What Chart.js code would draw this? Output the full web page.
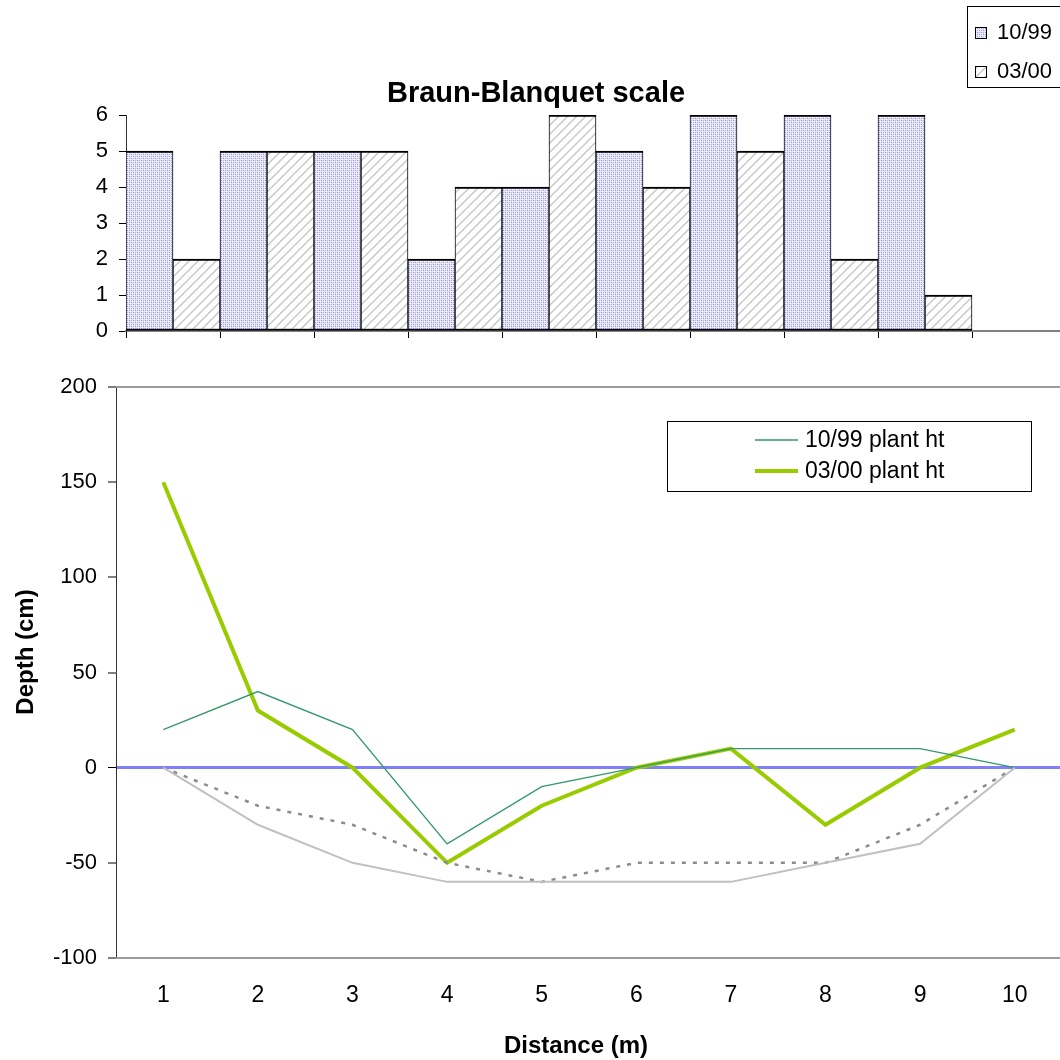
<!DOCTYPE html>
<html>
<head>
<meta charset="utf-8">
<script src="https://cdn.jsdelivr.net/npm/chart.js@4.4.1/dist/chart.umd.min.js"></script>
<style>
  html, body { margin: 0; padding: 0; background: #ffffff; }
  #wrap { position: relative; width: 1060px; height: 1060px; overflow: hidden; background: #ffffff; }
  #wrap canvas { position: absolute; left: 0; }
  #bbChart { top: 0; }
  #depthChart { top: 360px; }
</style>
</head>
<body>
<div id="wrap">
  <canvas id="bbChart" width="1100" height="360"></canvas>
  <canvas id="depthChart" width="1100" height="700"></canvas>
</div>
<script>
// Transect stations along the channel (m)
const distances = ['1', '2', '3', '4', '5', '6', '7', '8', '9', '10'];

// Braun-Blanquet cover class per station
const bbOct99 = [5, 5, 5, 2, 4, 5, 6, 6, 6, null];
const bbMar00 = [2, 5, 5, 4, 6, 4, 5, 2, 1, null];

// Plant height (cm)
const plantHtOct99 = [20, 40, 20, -40, -10, 0, 10, 10, 10, 0];
const plantHtMar00 = [150, 30, 0, -50, -20, 0, 10, -30, 0, 20];

// Channel bed profiles (cm below the water line)
const bedOct99 = [0, -30, -50, -60, -60, -60, -60, -50, -40, 0];
const bedMar00 = [0, -20, -30, -50, -60, -50, -50, -50, -30, 0];

// Axis ticks
const bbTicks = [0, 1, 2, 3, 4, 5, 6];
const depthTicks = [-100, -50, 0, 50, 100, 150, 200];

const FONT = "'Liberation Sans', Arial, sans-serif";

function dotPattern() {
  const c = document.createElement('canvas');
  c.width = 4; c.height = 4;
  const g = c.getContext('2d');
  g.fillStyle = '#e6e6ff';
  g.fillRect(0, 0, 4, 4);
  g.fillStyle = '#8c8cff';
  g.fillRect(1, 0, 1, 1);
  g.fillRect(3, 2, 1, 1);
  g.fillStyle = '#b0b0ff';
  g.fillRect(1, 2, 1, 1);
  g.fillRect(3, 0, 1, 1);
  g.fillStyle = '#ffffff';
  g.fillRect(0, 1, 1, 1);
  g.fillRect(2, 3, 1, 1);
  return g.createPattern(c, 'repeat');
}

function hatchPattern() {
  const c = document.createElement('canvas');
  c.width = 9; c.height = 9;
  const g = c.getContext('2d');
  g.fillStyle = '#ffffff';
  g.fillRect(0, 0, 9, 9);
  g.strokeStyle = '#c6c6c6';
  g.lineWidth = 1.4;
  g.beginPath();
  g.moveTo(-1, 10); g.lineTo(10, -1);
  g.moveTo(-5.5, 5.5); g.lineTo(5.5, -5.5);
  g.moveTo(3.5, 14.5); g.lineTo(14.5, 3.5);
  g.stroke();
  return g.createPattern(c, 'repeat');
}

const dots = dotPattern();
const hatch = hatchPattern();

function fixWidth(w) { return scale => { scale.width = w; }; }
function fixHeight(h) { return scale => { scale.height = h; }; }

// ---- Braun-Blanquet cover bars ----
const bbDecor = {
  id: 'bbDecor',
  afterDraw(chart) {
    const ctx = chart.ctx;
    ctx.save();
    ctx.fillStyle = '#000';
    ctx.font = 'bold 29px ' + FONT;
    ctx.textAlign = 'center';
    ctx.textBaseline = 'middle';
    ctx.fillText('Braun-Blanquet scale', 536, 94);

    // legend
    const bx = 967.5, by = 6.5, bw = 120, bh = 81;
    ctx.strokeStyle = '#000';
    ctx.lineWidth = 1;
    ctx.strokeRect(bx, by, bw, bh);
    ctx.font = '22px ' + FONT;
    ctx.textAlign = 'left';
    const rows = [33, 72];
    chart.data.datasets.forEach((ds, i) => {
      const y = rows[i];
      ctx.fillStyle = ds.backgroundColor;
      ctx.fillRect(975, y - 5, 11, 11);
      ctx.strokeStyle = '#000';
      ctx.strokeRect(975.5, y - 5.5, 11, 11);
      ctx.fillStyle = '#000';
      ctx.fillText(ds.label, 997, y);
    });
    ctx.restore();
  }
};

new Chart(document.getElementById('bbChart'), {
  type: 'bar',
  data: {
    labels: distances,
    datasets: [
      { label: '10/99', data: bbOct99, backgroundColor: dots, borderColor: '#000',
        borderWidth: { top: 2, bottom: 2, left: 1, right: 1 }, borderSkipped: false,
        barPercentage: 1, categoryPercentage: 1 },
      { label: '03/00', data: bbMar00, backgroundColor: hatch, borderColor: '#000',
        borderWidth: { top: 2, bottom: 2, left: 1, right: 1 }, borderSkipped: false,
        barPercentage: 1, categoryPercentage: 1 }
    ]
  },
  options: {
    responsive: false,
    animation: false,
    layout: { padding: { top: 115, right: 34, left: 0, bottom: 0 } },
    plugins: { legend: { display: false }, tooltip: { enabled: false } },
    scales: {
      x: {
        offset: true,
        afterFit: fixHeight(29),
        ticks: { display: false },
        grid: { offset: true, drawOnChartArea: false, tickLength: 7, tickColor: '#000', tickWidth: 1 },
        border: { color: '#808080', width: 2 }
      },
      y: {
        min: 0, max: 6,
        afterFit: fixWidth(126),
        afterBuildTicks: s => { s.ticks = bbTicks.map(v => ({ value: v })); },
        ticks: { color: '#000', font: { family: FONT, size: 22 }, padding: 11 },
        grid: { drawOnChartArea: false, tickLength: 7, tickColor: '#000', tickWidth: 1 },
        border: { color: '#333', width: 1 }
      }
    }
  },
  plugins: [bbDecor]
});

// ---- Plant height and depth profile ----
const depthDecor = {
  id: 'depthDecor',
  beforeDatasetsDraw(chart) {
    const { ctx, chartArea: a } = chart;
    ctx.save();
    ctx.strokeStyle = '#9a9a9a';
    ctx.lineWidth = 2;
    ctx.beginPath();
    ctx.moveTo(a.left, a.top); ctx.lineTo(a.right, a.top);
    ctx.moveTo(a.left, a.bottom); ctx.lineTo(a.right, a.bottom);
    ctx.stroke();
    ctx.restore();
  },
  afterDraw(chart) {
    const ctx = chart.ctx;
    ctx.save();
    ctx.fillStyle = '#000';
    ctx.font = 'bold 24px ' + FONT;
    ctx.textAlign = 'center';
    ctx.textBaseline = 'middle';
    ctx.fillText('Distance (m)', 576, 686);
    ctx.translate(26, 292);
    ctx.rotate(-Math.PI / 2);
    ctx.fillText('Depth (cm)', 0, 0);
    ctx.restore();

    // legend for the plant height series
    ctx.save();
    ctx.strokeStyle = '#000';
    ctx.lineWidth = 1;
    ctx.strokeRect(667.5, 61.5, 364, 70);
    ctx.font = '23px ' + FONT;
    ctx.textAlign = 'left';
    ctx.textBaseline = 'middle';
    const rows = [80, 111];
    chart.data.datasets.filter(ds => ds.inLegend).forEach((ds, i) => {
      const y = rows[i];
      ctx.strokeStyle = ds.borderColor;
      ctx.lineWidth = ds.borderWidth;
      ctx.beginPath();
      ctx.moveTo(755, y); ctx.lineTo(798, y);
      ctx.stroke();
      ctx.fillStyle = '#000';
      ctx.fillText(ds.label, 805, y + 1);
    });
    ctx.restore();
  }
};

new Chart(document.getElementById('depthChart'), {
  type: 'line',
  data: {
    labels: distances,
    datasets: [
      { label: '10/99 bed', data: bedOct99, borderColor: '#c0c0c0', borderWidth: 2,
        pointRadius: 0, tension: 0, fill: false },
      { label: '03/00 bed', data: bedMar00, borderColor: '#8c8c8c', borderWidth: 2.5,
        borderDash: [4, 7], pointRadius: 0, tension: 0, fill: false },
      { label: '10/99 plant ht', data: plantHtOct99, borderColor: '#339966', borderWidth: 1.3,
        pointRadius: 0, tension: 0, fill: false, inLegend: true },
      { label: '03/00 plant ht', data: plantHtMar00, borderColor: '#99cc00', borderWidth: 4,
        pointRadius: 0, tension: 0, fill: false, inLegend: true }
    ]
  },
  options: {
    responsive: false,
    animation: false,
    layout: { padding: { top: 27, right: 38, left: 0, bottom: 0 } },
    plugins: { legend: { display: false }, tooltip: { enabled: false } },
    scales: {
      x: {
        offset: true,
        afterFit: fixHeight(102),
        ticks: { color: '#000', font: { family: FONT, size: 23 }, padding: 24, maxRotation: 0 },
        grid: { display: false, drawTicks: false },
        border: { display: false }
      },
      y: {
        min: -100, max: 200,
        afterFit: fixWidth(116),
        afterBuildTicks: s => { s.ticks = depthTicks.map(v => ({ value: v })); },
        ticks: { color: '#000', font: { family: FONT, size: 22 }, padding: 11 },
        grid: {
          drawOnChartArea: true,
          color: c => (c.tick && c.tick.value === 0) ? '#8080ff' : 'rgba(0,0,0,0)',
          lineWidth: c => (c.tick && c.tick.value === 0) ? 3 : 0,
          tickLength: 8, tickColor: '#000', tickWidth: 1
        },
        border: { color: '#333', width: 1 }
      }
    }
  },
  plugins: [depthDecor]
});
</script>
</body>
</html>
